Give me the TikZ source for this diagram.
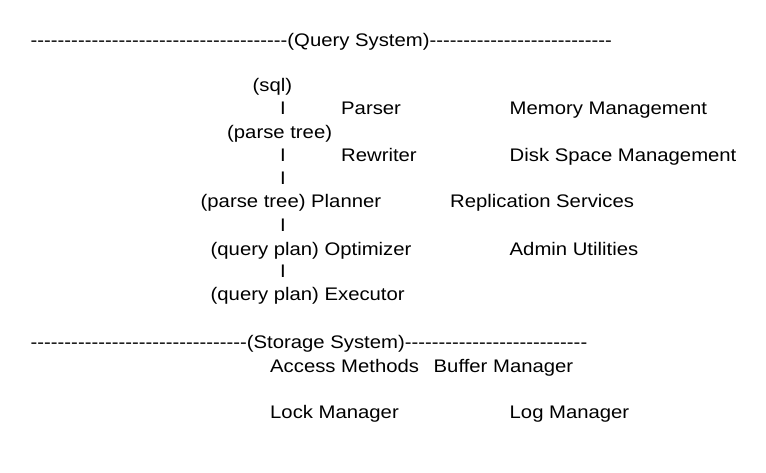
\documentclass[tikz,border=0pt]{standalone}
\usepackage{fontspec}
\newfontfamily\diagfont{Liberation Sans}[FakeStretch=1.115]
\newcommand{\dashrow}[1]{\foreach \k in {1,...,#1}{-}}

\begin{document}
\begin{tikzpicture}[
  x=1pt, y=-1pt,
  txt/.style={anchor=base west, inner sep=0pt, font=\diagfont\fontsize{18.2}{22}\selectfont}
]
  \useasboundingbox (0,0) rectangle (766,473);
  % query side
  \node[txt] (qline) at (30.5, 47) {\dashrow{38}(Query System)\dashrow{27}};
  \node[txt] (sql) at (252.5, 92) {(sql)};
  \node[txt] (bar1) at (280, 115) {I};
  \node[txt] (parser) at (341, 115) {Parser};
  \node[txt] (mem) at (509.5, 115) {Memory Management};
  \node[txt] (ptree) at (227, 138.5) {(parse tree)};
  \node[txt] (bar2) at (280, 162) {I};
  \node[txt] (rewriter) at (341, 162) {Rewriter};
  \node[txt] (disk) at (509.5, 162) {Disk Space Management};
  \node[txt] (bar3) at (280, 185) {I};
  \node[txt] (planner) at (200.5, 208) {(parse tree) Planner};
  \node[txt] (repl) at (450, 208) {Replication Services};
  \node[txt] (bar4) at (280, 232) {I};
  \node[txt] (optimizer) at (210.5, 255) {(query plan) Optimizer};
  \node[txt] (admin) at (509.5, 255) {Admin Utilities};
  \node[txt] (bar5) at (280, 278) {I};
  \node[txt] (executor) at (210.5, 301) {(query plan) Executor};
  % storage side
  \node[txt] (sline) at (30.5, 348) {\dashrow{32}(Storage System)\dashrow{27}};
  \node[txt] (access) at (270, 372) {Access Methods};
  \node[txt] (buffer) at (433.5, 372) {Buffer Manager};
  \node[txt] (lock) at (270, 418.5) {Lock Manager};
  \node[txt] (logmgr) at (509.5, 418.5) {Log Manager};
\end{tikzpicture}
\end{document}
